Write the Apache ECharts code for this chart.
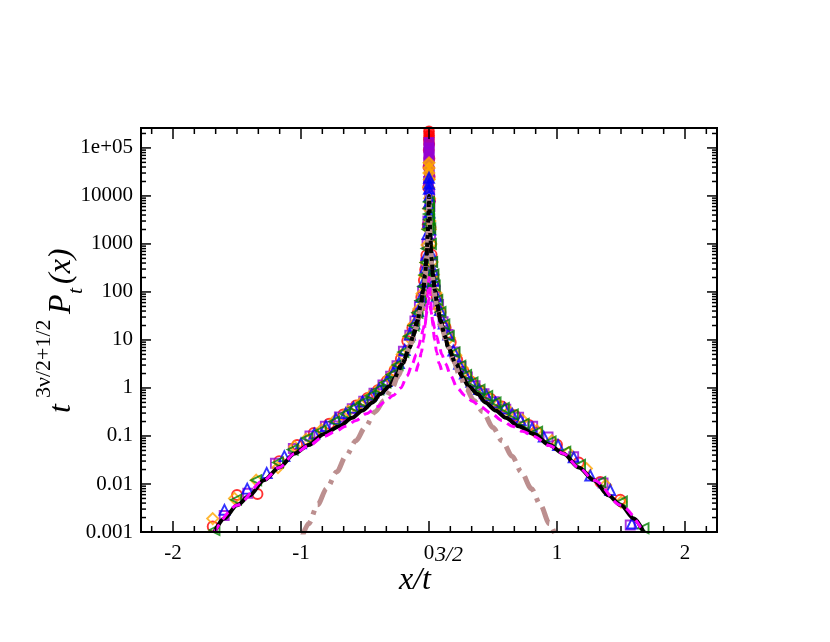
<!DOCTYPE html>
<html>
<head>
<meta charset="utf-8">
<script src="https://cdn.jsdelivr.net/npm/echarts@6/dist/echarts.min.js"></script>
<style>html,body{margin:0;padding:0;background:#fff}#c{width:830px;height:642px}</style>
</head>
<body>
<div id="c"></div>
<script>
// ---- data (x/t^{3/2}, scaled density) ----
const redCircles = [[-1.69,0.0013],[-1.5,0.0059],[-1.34,0.0062],[-1.17,0.03],[-1.03,0.065],[-0.9,0.115],[-0.78,0.18],[-0.67,0.28],[-0.57,0.43],[-0.48,0.62],[-0.4,0.9],[-0.33,1.4],[-0.27,2.3],[-0.22,4],[-0.17,9.5],[-0.13,18],[-0.09,36],[-0.06,78],[-0.04,175],[-0.03,290],[-0.02,580],[-0.01,2500],[-0.006,15000],[-0.004,40000],[-0.002,90000],[-0.001,150000],[0,220000],[0.001,180000],[0.0015,120000],[0.003,60000],[0.005,25000],[0.008,8000],[0.012,2200],[0.015,1000],[0.02,600],[0.04,170],[0.06,80],[0.09,38],[0.13,18],[0.17,9],[0.22,3.9],[0.27,2.2],[0.33,1.35],[0.4,0.88],[0.48,0.6],[0.57,0.41],[0.67,0.27],[0.78,0.17],[0.844,0.12],[1.0,0.066],[1.17,0.028],[1.338,0.011],[1.494,0.0047]];
const purpleSquares = [[-1.6,0.0022],[-1.416,0.0064],[-1.2,0.027],[-1.06,0.055],[-0.93,0.1],[-0.81,0.16],[-0.7,0.25],[-0.6,0.37],[-0.51,0.53],[-0.43,0.78],[-0.36,1.15],[-0.3,1.75],[-0.25,2.9],[-0.2,5.8],[-0.15,12.5],[-0.11,25],[-0.075,52],[-0.05,105],[-0.025,400],[-0.015,1000],[-0.009,3000],[-0.004,20000],[-0.002,48000],[-0.001,80000],[0,130000],[0.001,100000],[0.0015,62000],[0.003,32000],[0.005,12000],[0.007,6000],[0.012,1600],[0.025,420],[0.035,230],[0.05,110],[0.075,55],[0.11,24],[0.15,13],[0.2,5.6],[0.25,2.8],[0.3,1.7],[0.36,1.12],[0.43,0.76],[0.51,0.52],[0.6,0.36],[0.7,0.245],[0.81,0.16],[0.93,0.095],[1.13,0.037],[1.36,0.0105],[1.572,0.0014]];
const orangeDiamonds = [[-1.69,0.0019],[-1.52,0.005],[-1.35,0.012],[-1.18,0.022],[-1.05,0.06],[-0.96,0.085],[-0.84,0.135],[-0.73,0.22],[-0.63,0.33],[-0.54,0.47],[-0.455,0.7],[-0.38,1.02],[-0.31,1.65],[-0.26,2.7],[-0.21,5],[-0.16,11.5],[-0.12,21],[-0.08,44],[-0.055,92],[-0.035,220],[-0.025,410],[-0.015,950],[-0.01,2100],[-0.005,5500],[-0.003,15000],[-0.001,30000],[0,49000],[0.001,38000],[0.002,22000],[0.004,9000],[0.007,3000],[0.01,2000],[0.015,1000],[0.025,420],[0.035,230],[0.055,95],[0.08,45],[0.12,21],[0.16,11],[0.21,4.8],[0.26,2.6],[0.31,1.6],[0.38,1.0],[0.455,0.68],[0.54,0.46],[0.63,0.32],[0.73,0.215],[0.84,0.13],[0.96,0.08],[1.09,0.045],[1.23,0.021],[1.38,0.0095],[1.5,0.0042]];
const blueTriangles = [[-1.598,0.0029],[-1.42,0.008],[-1.268,0.017],[-1.13,0.038],[-1.0,0.07],[-0.896,0.112],[-0.805,0.16],[-0.727,0.23],[-0.65,0.3],[-0.59,0.39],[-0.52,0.52],[-0.45,0.72],[-0.39,0.98],[-0.33,1.4],[-0.28,2.1],[-0.235,3.3],[-0.19,6.2],[-0.15,13],[-0.115,22],[-0.085,40],[-0.06,78],[-0.04,165],[-0.028,320],[-0.02,580],[-0.012,1600],[-0.006,2800],[-0.003,7000],[-0.001,14000],[0,24000],[0.001,18000],[0.002,10000],[0.004,4500],[0.01,2000],[0.02,600],[0.03,290],[0.04,170],[0.06,80],[0.085,42],[0.115,22],[0.15,13],[0.19,6],[0.235,3.2],[0.28,2.0],[0.33,1.35],[0.39,0.95],[0.45,0.7],[0.52,0.5],[0.59,0.38],[0.65,0.29],[0.715,0.215],[0.805,0.145],[0.896,0.097],[1.008,0.065],[1.13,0.036],[1.26,0.015],[1.416,0.0075],[1.585,0.0015]];
const greenTriangles = [[-1.676,0.0011],[-1.507,0.0047],[-1.35,0.012],[-1.18,0.028],[-1.065,0.052],[-0.95,0.09],[-0.845,0.13],[-0.74,0.2],[-0.655,0.29],[-0.585,0.39],[-0.52,0.5],[-0.455,0.69],[-0.395,0.93],[-0.34,1.3],[-0.29,1.9],[-0.245,3],[-0.2,5.6],[-0.155,12],[-0.12,20],[-0.09,37],[-0.065,66],[-0.045,130],[-0.035,225],[-0.025,410],[-0.018,800],[-0.01,2000],[-0.003,2600],[-0.001,4200],[0,7500],[0.001,5500],[0.002,3200],[0.01,2100],[0.015,1000],[0.025,420],[0.035,230],[0.045,135],[0.065,68],[0.09,38],[0.12,21],[0.155,12],[0.2,5.5],[0.245,2.9],[0.29,1.85],[0.34,1.3],[0.395,0.92],[0.455,0.68],[0.52,0.5],[0.585,0.38],[0.655,0.28],[0.74,0.18],[0.845,0.123],[0.95,0.077],[1.065,0.047],[1.18,0.025],[1.338,0.011],[1.507,0.0043],[1.676,0.0012]];

const blackSolid = [[-1.676,0.001],[-1.6,0.0019],[-1.5,0.0036],[-1.4,0.0058],[-1.29,0.012],[-1.17,0.022],[-1.05,0.043],[-0.94,0.065],[-0.82,0.11],[-0.7,0.16],[-0.6,0.24],[-0.52,0.34],[-0.44,0.5],[-0.38,0.75],[-0.31,1.08],[-0.26,1.7],[-0.21,3.2],[-0.15,7],[-0.125,12],[-0.09,25],[-0.065,53],[-0.045,110],[-0.03,230],[-0.02,500],[-0.01,1500],[0,'-'],[0.01,1500],[0.02,500],[0.03,230],[0.045,110],[0.065,53],[0.09,25],[0.125,12],[0.15,7],[0.21,3.2],[0.26,1.7],[0.31,1.08],[0.38,0.75],[0.44,0.5],[0.52,0.34],[0.6,0.24],[0.7,0.16],[0.82,0.11],[0.94,0.065],[1.05,0.043],[1.17,0.022],[1.29,0.012],[1.4,0.0058],[1.5,0.0036],[1.6,0.0019],[1.676,0.001]];
const blackDotted = [[-0.26,1.7],[-0.21,3.2],[-0.15,7],[-0.125,12],[-0.09,25],[-0.065,53],[-0.045,110],[-0.03,230],[-0.02,500],[-0.01,1500],[-0.005,3800],[0,10000],[0.005,3800],[0.01,1500],[0.02,500],[0.03,230],[0.045,110],[0.065,53],[0.09,25],[0.125,12],[0.15,7],[0.21,3.2],[0.26,1.7]];
const brownDashDot = [[-0.99,0.0008],[-0.94,0.0015],[-0.87,0.0037],[-0.8,0.008],[-0.72,0.018],[-0.65,0.038],[-0.57,0.08],[-0.5,0.15],[-0.42,0.32],[-0.35,0.55],[-0.29,0.98],[-0.24,1.8],[-0.19,3.8],[-0.14,8.5],[-0.1,18],[-0.065,42],[-0.05,70],[-0.035,140],[-0.02,400],[-0.01,1200],[-0.005,3500],[0,10000],[0.005,3500],[0.01,1200],[0.02,400],[0.035,140],[0.05,70],[0.065,42],[0.1,18],[0.14,8.5],[0.19,3.8],[0.24,1.8],[0.29,0.98],[0.35,0.55],[0.42,0.32],[0.5,0.15],[0.57,0.08],[0.65,0.038],[0.72,0.018],[0.8,0.008],[0.87,0.0037],[0.94,0.0015],[0.99,0.0008]];
const magentaOuter = [[-1.676,0.001],[-1.5,0.0036],[-1.29,0.012],[-1.17,0.022],[-1.05,0.043],[-0.94,0.063],[-0.82,0.098],[-0.73,0.125],[-0.65,0.16],[-0.57,0.21],[-0.49,0.29],[-0.4,0.41],[-0.34,0.53],[-0.28,0.7],[-0.22,1.0],[-0.17,1.8],[-0.13,3.2],[-0.1,5],[-0.08,7.5],[-0.06,12],[-0.045,17],[-0.03,25],[-0.015,40],[0,75],[0.015,40],[0.03,25],[0.045,17],[0.06,12],[0.08,7.5],[0.1,5],[0.13,3.2],[0.17,1.8],[0.22,1.0],[0.28,0.7],[0.34,0.53],[0.4,0.41],[0.49,0.29],[0.57,0.21],[0.65,0.16],[0.73,0.125],[0.82,0.098],[0.94,0.063],[1.05,0.043],[1.17,0.022],[1.29,0.012],[1.5,0.0036],[1.676,0.001]];
const magentaInner = [[-0.1,2.2],[-0.078,3.3],[-0.06,5.5],[-0.043,10],[-0.03,20],[-0.02,40],[-0.01,90],[0,200],[0.01,90],[0.02,40],[0.03,20],[0.043,10],[0.06,5.5],[0.078,3.3],[0.1,2.2]];

const xTickLabels = ['-2','-1','0','1','2'];
const yTickLabels = ['0.001','0.01','0.1','1','10','100','1000','10000','1e+05'];

// ---- axis tick positions (decoration) ----
const xTicks = [];
for (let k = -13; k <= 13; k++) xTicks.push([k / 6, k % 6 === 0 ? 11 : 6]);
const yTicks = [];
for (let e = -3; e <= 5; e++) {
  for (let m = 1; m <= 9; m++) {
    const v = m * Math.pow(10, e);
    if (v >= 0.001 && v <= 2.6e5) yTicks.push([0, v, m === 1 ? 10 : 5]);
  }
}

const FONT = '"Liberation Serif", "Times New Roman", serif';
const chart = echarts.init(document.getElementById('c'), null, {renderer: 'canvas'});

function markerSeries(name, data, color, symbol, size, rotate, fillCore) {
  return {
    name, type: 'scatter', data, symbol, symbolSize: size, symbolRotate: rotate || 0,
    itemStyle: {
      color: p => (fillCore && Math.abs(p.value[0]) <= 0.0045) ? color : 'rgba(0,0,0,0)',
      borderColor: color, borderWidth: 1.9
    },
    emphasis: {disabled: true}, silent: true, z: 2
  };
}
function lineSeries(name, data, color, width, type, z, smooth) {
  return {
    name, type: 'line', data, showSymbol: false, symbol: 'none', connectNulls: false,
    smooth: smooth || false, smoothMonotone: 'x',
    lineStyle: {color, width, type, cap: 'butt'}, silent: true, z: z, animation: false
  };
}

const option = {
  animation: false,
  backgroundColor: '#fff',
  grid: {left: 141, top: 128, width: 576, height: 404, show: true, borderColor: '#000', borderWidth: 2, backgroundColor: 'rgba(0,0,0,0)', z: 10},
  xAxis: {
    type: 'value', min: -2.25, max: 2.25, splitNumber: 5,
    axisLine: {show: false}, axisTick: {show: false}, splitLine: {show: false},
    axisLabel: {
      color: '#000', fontFamily: FONT, fontSize: 21, margin: 11,
      showMinLabel: false, showMaxLabel: false,
      formatter: v => {
        const r = Math.round(v);
        if (Math.abs(v - r) > 1e-9) return '';
        const i = xTickLabels.indexOf(String(r));
        return i >= 0 ? xTickLabels[i] : '';
      }
    }
  },
  yAxis: {
    type: 'log', logBase: 10, min: 0.001, max: 2.6e5,
    axisLine: {show: false}, axisTick: {show: false}, splitLine: {show: false},
    axisLabel: {
      color: '#000', fontFamily: FONT, fontSize: 21, margin: 8,
      formatter: v => {
        const l = Math.log10(v), r = Math.round(l);
        if (Math.abs(l - r) > 1e-6) return '';
        return yTickLabels[r + 3] || '';
      }
    }
  },
  graphic: [
    {type: 'text', x: 399, y: 597, silent: true, style: {text: 'x/t', fontFamily: FONT, fontStyle: 'italic', fontSize: 32, fill: '#000', align: 'left', verticalAlign: 'bottom', textAlign: 'left', textVerticalAlign: 'bottom'}},
    {type: 'text', x: 435, y: 566, silent: true, style: {text: '3/2', fontFamily: FONT, fontStyle: 'italic', fontSize: 22, fill: '#000', align: 'left', verticalAlign: 'bottom', textAlign: 'left', textVerticalAlign: 'bottom'}},
    {type: 'text', x: 78, y: 413, rotation: Math.PI / 2, silent: true, style: {text: 't', fontFamily: FONT, fontStyle: 'italic', fontSize: 32, fill: '#000', align: 'left', verticalAlign: 'bottom', textAlign: 'left', textVerticalAlign: 'bottom'}},
    {type: 'text', x: 55, y: 398, rotation: Math.PI / 2, silent: true, style: {text: '3ν/2+1/2', fontFamily: FONT, fontSize: 22, fill: '#000', align: 'left', verticalAlign: 'bottom', textAlign: 'left', textVerticalAlign: 'bottom'}},
    {type: 'text', x: 78, y: 314, rotation: Math.PI / 2, silent: true, style: {text: 'P', fontFamily: FONT, fontStyle: 'italic', fontSize: 32, fill: '#000', align: 'left', verticalAlign: 'bottom', textAlign: 'left', textVerticalAlign: 'bottom'}},
    {type: 'text', x: 87, y: 294, rotation: Math.PI / 2, silent: true, style: {text: 't', fontFamily: FONT, fontStyle: 'italic', fontSize: 22, fill: '#000', align: 'left', verticalAlign: 'bottom', textAlign: 'left', textVerticalAlign: 'bottom'}},
    {type: 'text', x: 78, y: 284, rotation: Math.PI / 2, silent: true, style: {text: '(x)', fontFamily: FONT, fontStyle: 'italic', fontSize: 32, fill: '#000', align: 'left', verticalAlign: 'bottom', textAlign: 'left', textVerticalAlign: 'bottom'}}
  ],
  series: [
    markerSeries('red', redCircles, '#ff0000', 'circle', 10, 0, true),
    markerSeries('purple', purpleSquares, '#9400d3', 'rect', 9, 0, true),
    markerSeries('orange', orangeDiamonds, '#ffa500', 'diamond', 11, 0, true),
    markerSeries('blue', blueTriangles, '#0000ff', 'triangle', 10, 0, true),
    markerSeries('green', greenTriangles, '#008000', 'triangle', 10, 90, false),
    lineSeries('black', blackSolid, '#000000', 4, 'solid', 3, 0.3),
    lineSeries('brown', brownDashDot, '#bc8f8f', 5, [18, 7, 4, 7], 4, 0.3),
    lineSeries('blackDotted', blackDotted, '#000000', 4, [4, 4], 5, 0.3),
    lineSeries('magentaOuter', magentaOuter, '#ff00ff', 3, [9, 6], 6, 0.3),
    lineSeries('magentaInner', magentaInner, '#ff00ff', 3, [9, 6], 6, 0.3),
    {
      type: 'custom', data: xTicks, silent: true, z: 11, clip: false,
      encode: {x: 0},
      renderItem: (params, api) => {
        const cs = params.coordSys;
        const x = api.coord([api.value(0), 1])[0];
        const len = api.value(1);
        const st = {stroke: '#000', lineWidth: 1.5};
        return {type: 'group', children: [
          {type: 'line', shape: {x1: x, y1: cs.y + cs.height, x2: x, y2: cs.y + cs.height - len}, style: st},
          {type: 'line', shape: {x1: x, y1: cs.y, x2: x, y2: cs.y + len}, style: st}
        ]};
      }
    },
    {
      type: 'custom', data: yTicks, silent: true, z: 11, clip: false,
      encode: {x: 0, y: 1},
      renderItem: (params, api) => {
        const cs = params.coordSys;
        const y = api.coord([0, api.value(1)])[1];
        const len = api.value(2);
        const st = {stroke: '#000', lineWidth: 1.5};
        return {type: 'group', children: [
          {type: 'line', shape: {x1: cs.x, y1: y, x2: cs.x + len, y2: y}, style: st},
          {type: 'line', shape: {x1: cs.x + cs.width, y1: y, x2: cs.x + cs.width - len, y2: y}, style: st}
        ]};
      }
    }
  ]
};
chart.setOption(option);
</script>
</body>
</html>
